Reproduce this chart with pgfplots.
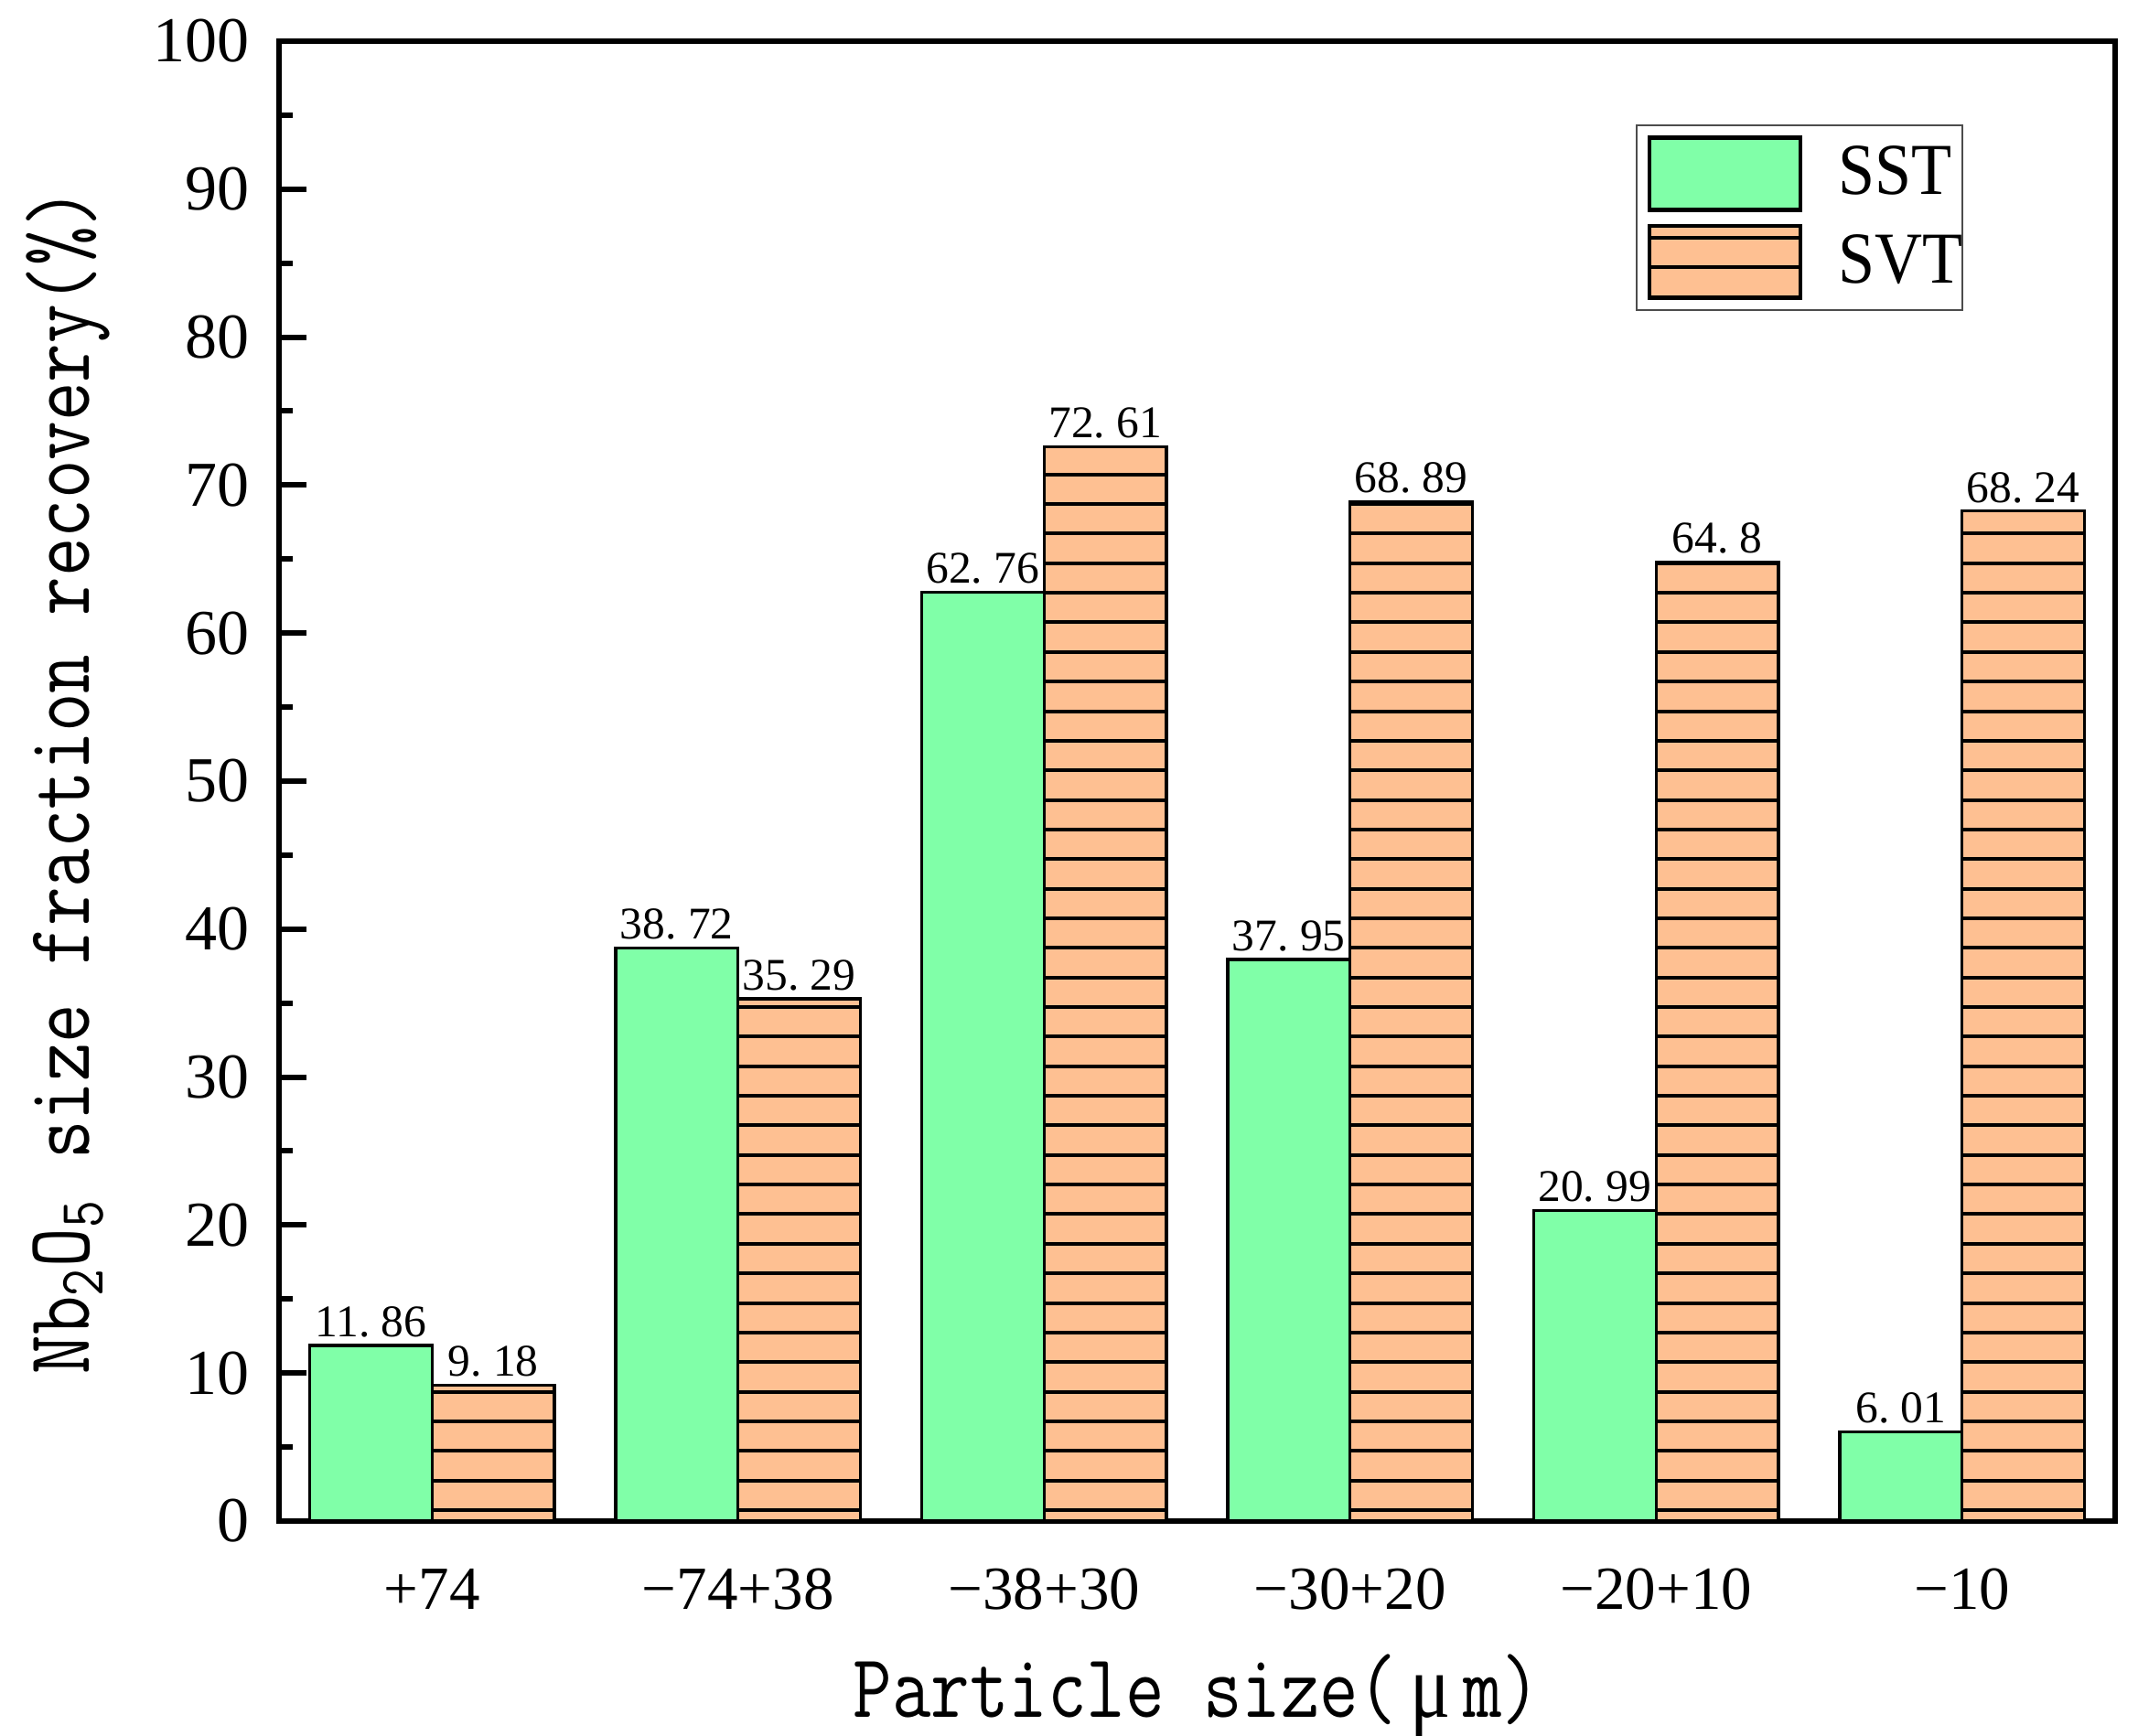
\documentclass[border=0pt]{standalone}
\usepackage{fontspec}
\setmainfont{Liberation Serif}
\usepackage{graphicx}
\usepackage{pgfplots}
\pgfplotsset{compat=1.18}
\usetikzlibrary{patterns}
\pgfdeclarepatternformonly{svthatch}{\pgfqpoint{0pt}{3.51pt}}{\pgfqpoint{20pt}{4.31pt}}{\pgfqpoint{20pt}{6.47pt}}{%
  \pgfsetlinewidth{0.8pt}%
  \pgfpathmoveto{\pgfqpoint{-1pt}{3.91pt}}%
  \pgfpathlineto{\pgfqpoint{21pt}{3.91pt}}%
  \pgfusepath{stroke}}
\definecolor{sstgreen}{RGB}{128,255,168}
\definecolor{svtorange}{RGB}{254,192,146}
\newcommand{\titlefont}{\ttfamily\fontsize{16.5}{18}\selectfont}
\newcommand{\datafont}{\fontsize{9.9}{11}\selectfont}
\newcommand{\legtext}[1]{\scalebox{0.9}[1]{#1}\hspace*{-3pt}}
\begin{document}
\begin{tikzpicture}
\path[use as bounding box] (0,0) rectangle (467.4pt,379.4pt);
\begin{axis}[
  at={(61pt,46.8pt)}, anchor=south west,
  scale only axis, width=401.4pt, height=323.6pt,
  xmin=-0.5, xmax=5.5, ymin=0, ymax=100,
  ybar, bar width=0.4,
  axis line style={line width=1.2pt, black},
  tick style={line width=1.2pt, black},
  tick align=inside, tick pos=left,
  major tick length=6pt, minor tick length=3pt,
  xtick={0,1,2,3,4,5},
  xticklabels={+74,−74+38,−38+30,−30+20,−20+10,−10},
  ytick={0,10,...,100}, minor y tick num=1,
  /pgf/number format/assume math mode=true,
  yticklabel style={xshift=-3pt, font=\fontsize{14}{16}\selectfont},
  xticklabel style={anchor=base, yshift=-19.4pt, font=\fontsize{13.4}{15}\selectfont},
  xlabel={\scalebox{1}[1.2]{Particle size(\,{\rmfamily μ}\,m)}},
  ylabel={\scalebox{1}[1.2]{Nb\textsubscript{2}O\textsubscript{5} size fraction recovery(\%)}},
  xlabel style={at={(axis description cs:0.5,-0.13226)}, anchor=base, inner sep=0pt, font=\titlefont},
  ylabel style={at={(axis description cs:-0.1036,0.5)}, anchor=base, inner sep=0pt, font=\titlefont},
  legend style={at={(axis description cs:0.9173,0.9435)}, anchor=north east,
    draw=black!70, line width=0.4pt, inner xsep=2.4pt, inner ysep=2.2pt, row sep=2.6pt,
    font=\fontsize{16}{18}\selectfont, nodes={inner sep=0.5pt},
    /tikz/every odd column/.append style={column sep=7.4pt}},
  legend cell align=left,
  legend image code/.code={\draw[#1, line width=0.9pt] (0pt,-7.9pt) rectangle (33pt,7.9pt);},
  nodes near coords,
  point meta=explicit symbolic,
  nodes near coords style={font=\datafont, inner sep=1.5pt, text=black},
]
\addplot[fill=sstgreen, draw=black, line width=0.65pt, bar shift=-0.2]
  coordinates {(0,11.86) [11.\ 86] (1,38.72) [38.\ 72] (2,62.76) [62.\ 76]
               (3,37.95) [37.\ 95] (4,20.99) [20.\ 99] (5,6.01) [6.\ 01]};
\addlegendentry{\legtext{SST}}
\addplot[fill=svtorange, draw=black, line width=0.65pt, bar shift=0.2,
  postaction={pattern=svthatch, pattern color=black}]
  coordinates {(0,9.18) [9.\ 18] (1,35.29) [35.\ 29] (2,72.61) [72.\ 61]
               (3,68.89) [68.\ 89] (4,64.8) [64.\ 8] (5,68.24) [68.\ 24]};
\addlegendentry{\legtext{SVT}}
\end{axis}
\end{tikzpicture}
\end{document}
